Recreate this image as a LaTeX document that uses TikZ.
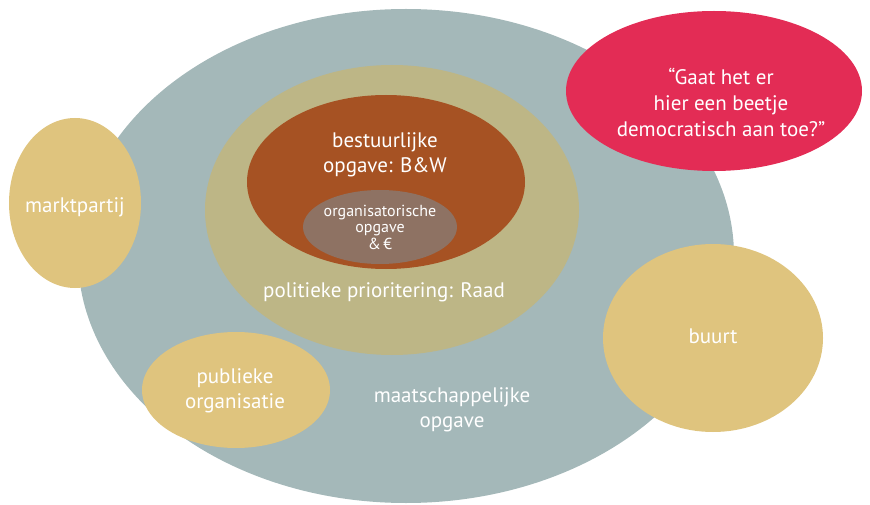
\documentclass[tikz,border=0pt]{standalone}
\usepackage{fontspec}
\setmainfont{PT Sans}
\usetikzlibrary{shapes.geometric}
\definecolor{maatgrijs}{HTML}{A4B8B9}
\definecolor{raadbeige}{HTML}{BDB686}
\definecolor{bwbruin}{HTML}{A65223}
\definecolor{orgbruin}{HTML}{8E7263}
\definecolor{vraagrood}{HTML}{E32C55}
\definecolor{partijgeel}{HTML}{DFC47E}
\begin{document}
\begin{tikzpicture}[x=1pt,y=-1pt,
    vlak/.style={ellipse,inner sep=0pt,draw=none},
    tekst/.style={text=white,align=center,inner sep=0pt,font=\fontsize{21}{24.5}\selectfont}]
        \useasboundingbox (0,0) rectangle (870,505);
        % vlakken
        \node[vlak,fill=maatgrijs,minimum width=656pt,minimum height=494pt] (maat) at (406,256) {};
        \node[vlak,fill=raadbeige,minimum width=374pt,minimum height=290pt] (raad) at (392,210) {};
        \node[vlak,fill=bwbruin,minimum width=278pt,minimum height=174pt] (bw) at (386,182) {};
        \node[vlak,fill=orgbruin,minimum width=154pt,minimum height=74pt] (org) at (380,227) {};
        \node[vlak,fill=vraagrood,minimum width=296pt,minimum height=160pt] (vraag) at (714,91) {};
        \node[vlak,fill=partijgeel,minimum width=132pt,minimum height=170pt] (markt) at (75,203) {};
        \node[vlak,fill=partijgeel,minimum width=220pt,minimum height=188pt] (buurt) at (713,338) {};
        \node[vlak,fill=partijgeel,minimum width=188pt,minimum height=116pt] (publiek) at (236,390) {};
        % teksten
        \node[tekst] (bwtekst) at (385,155) {bestuurlijke\\opgave: B\&W};
        \node[tekst,font=\fontsize{16}{16.5}\selectfont] (orgtekst) at (380,227) {organisatorische\\opgave\\\&\,€};
        \node[tekst] (raadtekst) at (384,292) {politieke prioritering: Raad};
        \node[tekst,font=\fontsize{21}{26}\selectfont] (vraagtekst) at (721,102) {“Gaat het er\\hier een beetje\\democratisch aan toe?”};
        \node[tekst] (markttekst) at (75,207) {marktpartij};
        \node[tekst] (buurttekst) at (713,336) {buurt};
        \node[tekst] (publiektekst) at (235,391) {publieke\\organisatie};
        \node[tekst] (maattekst) at (452,410) {maatschappelijke\\opgave};
\end{tikzpicture}
\end{document}
